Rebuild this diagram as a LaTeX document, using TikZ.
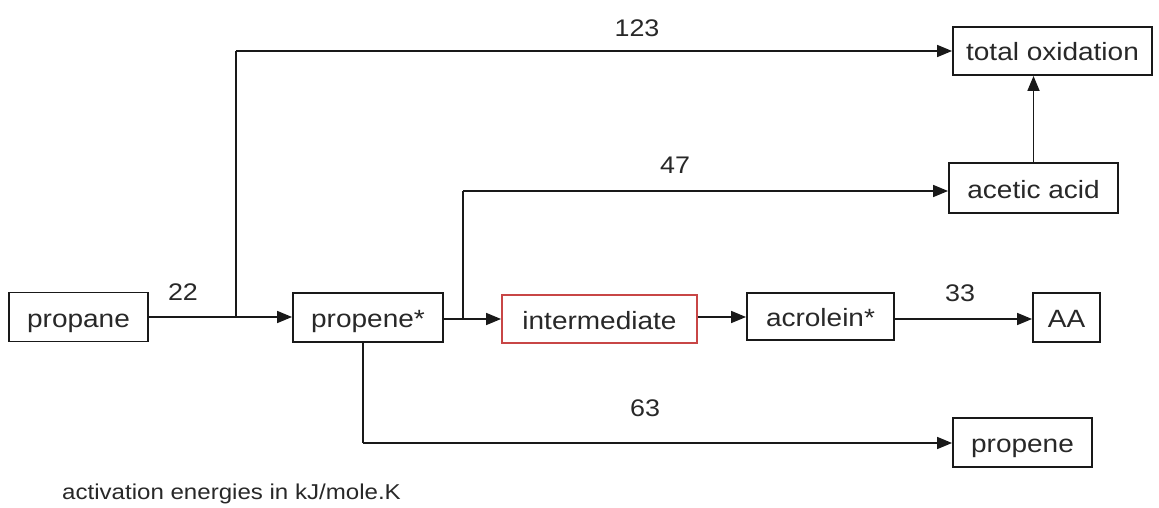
\documentclass[tikz,border=0pt]{standalone}
\usepackage{fontspec}
\setmainfont[FakeStretch=1.12]{Liberation Sans}
\usetikzlibrary{arrows.meta}
\definecolor{linegray}{RGB}{25,25,25}
\definecolor{txtgray}{RGB}{40,40,40}
\definecolor{boxred}{RGB}{200,70,70}
\tikzset{
  box/.style={draw=linegray, line width=1.9pt, inner sep=0pt, text=txtgray,
    font=\fontsize{25}{29}\selectfont, anchor=center, text height=22pt, text depth=2pt},
  conn/.style={draw=linegray, line width=1.7pt, -{Triangle[length=15pt,width=12pt]}},
  plain/.style={draw=linegray, line width=1.7pt},
  num/.style={text=txtgray, font=\fontsize{24}{28}\selectfont, inner sep=0pt},
}
\begin{document}
\begin{tikzpicture}[x=1pt,y=-1pt]
\useasboundingbox (0,0) rectangle (1159,508);
\fill[white] (0,0) rectangle (1159,508);

\node[box, minimum width=139pt, minimum height=49pt] (propane) at (78.5,317) {propane};
\node[box, minimum width=150pt, minimum height=49pt] (propenestar) at (368,317.5) {propene*};
\node[box, draw=boxred, minimum width=195pt, minimum height=48pt] (inter) at (599.5,319) {intermediate};
\node[box, minimum width=147pt, minimum height=47pt] (acrolein) at (820.5,316.5) {acrolein*};
\node[box, minimum width=67pt, minimum height=49pt] (aa) at (1066.5,317.5) {AA};
\node[box, minimum width=139pt, minimum height=49pt] (propene) at (1022.5,442.5) {propene};
\node[box, minimum width=199pt, minimum height=48pt] (totox) at (1052.5,51) {total oxidation};
\node[box, minimum width=169pt, minimum height=50pt] (acetic) at (1033.5,188) {acetic acid};

\coordinate (b1) at (236,317);
\coordinate (b2) at (463,319);

% connectors
\draw[conn] (propane.east |- 0,317) -- (propenestar.west |- 0,317);
\draw[plain] (b1) -- (236,51);
\draw[conn] (236,51) -- (totox.west |- 0,51);
\draw[conn] (propenestar.east |- 0,319) -- (inter.west |- 0,319);
\draw[plain] (b2) -- (463,191);
\draw[conn] (463,191) -- (acetic.west |- 0,191);
\draw[conn] (inter.east |- 0,317) -- (acrolein.west |- 0,317);
\draw[conn] (acrolein.east |- 0,319) -- (aa.west |- 0,319);
\draw[plain] (propenestar.south -| 363,0) -- (363,443);
\draw[conn] (363,443) -- (propene.west |- 0,443);
\draw[conn] (acetic.north) -- (acetic.north |- totox.south);

% labels
\node[num] (l22) at (183,292) {22};
\node[num] (l123) at (637,28) {123};
\node[num] (l47) at (675,165) {47};
\node[num] (l33) at (960,293) {33};
\node[num] (l63) at (645,408) {63};

\node[text=txtgray, font=\fontsize{21.5}{24}\selectfont, inner sep=0pt, anchor=west] (note) at (62,494) {activation energies in kJ/mole.K};
\end{tikzpicture}
\end{document}
